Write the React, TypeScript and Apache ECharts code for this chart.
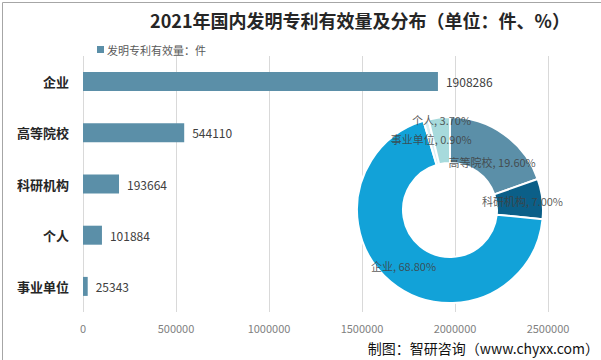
import React, { useEffect, useRef } from "react";
import * as echarts from "echarts";

const categories = ["企业", "高等院校", "科研机构", "个人", "事业单位"];
const counts = [1908286, 544110, 193664, 101884, 25343];
const pieNames = ["高等院校", "科研机构", "企业", "事业单位", "个人"];
const piePercents = [19.6, 7.0, 68.8, 0.9, 3.7];
const pieColors = ["#5b8fa8", "#0b5f88", "#12a2d8", "#d9eef4", "#a7dadc"];
const xTicks = [0, 500000, 1000000, 1500000, 2000000, 2500000];

export default function App() {
  const ref = useRef<HTMLDivElement>(null);
  useEffect(() => {
    if (!ref.current) return;
    const chart = echarts.init(ref.current, undefined, { renderer: "svg" });
    const font = "'Microsoft YaHei','Noto Sans CJK SC',sans-serif";
    chart.setOption({
      animation: false,
      backgroundColor: "#ffffff",
      textStyle: { fontFamily: font },
      title: {
        text: "2021年国内发明专利有效量及分布（单位：件、%）",
        left: 355,
        textAlign: "center",
        top: 6,
        textStyle: { fontSize: 18, fontWeight: "bold", color: "#262626", fontFamily: font },
      },
      legend: {
        data: ["发明专利有效量：件"],
        left: 92,
        top: 39,
        itemWidth: 7,
        itemHeight: 7,
        itemGap: 4,
        icon: "rect",
        textStyle: { fontSize: 11, color: "#595959", padding: [0, 0, 0, -2] },
      },
      grid: { left: 83, right: 53, top: 56, bottom: 48, containLabel: false },
      xAxis: {
        type: "value",
        min: xTicks[0],
        max: xTicks[xTicks.length - 1],
        interval: xTicks[1] - xTicks[0],
        axisLine: { show: false },
        axisTick: { show: false },
        splitLine: { show: true, lineStyle: { color: "#d9d9d9", width: 1 } },
        axisLabel: { color: "#7f7f7f", fontSize: 11, margin: 10, formatter: (v: number) => String(v) },
      },
      yAxis: {
        type: "category",
        data: categories,
        inverse: true,
        axisLine: { show: false },
        axisTick: { show: false },
        axisLabel: { color: "#262626", fontSize: 13, fontWeight: "bold", margin: 14 },
      },
      series: [
        {
          name: "发明专利有效量：件",
          type: "bar",
          data: counts,
          barWidth: 19,
          itemStyle: { color: "#5b8fa8" },
          label: { show: true, position: "right", distance: 8, color: "#404040", fontSize: 12 },
        },
        {
          name: "分布",
          type: "pie",
          center: [450, 210],
          radius: [47, 93],
          startAngle: 90,
          clockwise: true,
          data: pieNames.map((n, i) => ({ name: n, value: piePercents[i], itemStyle: { color: pieColors[i] } })),
          itemStyle: { borderColor: "#ffffff", borderWidth: 2 },
          label: {
            show: true,
            position: "inside",
            formatter: (p: any) => `${p.name}, ${p.value.toFixed(2)}%`,
            color: "rgba(64,64,64,0.85)",
            fontSize: 11,
          },
          labelLayout: (p: any) => {
            if (p.dataIndex === 4) return { dy: -17 };
            if (p.dataIndex === 0) return { dy: 12 };
            return {};
          },
          labelLine: { show: false },
          emphasis: { disabled: true },
        },
      ],
      graphic: [
        {
          type: "text",
          right: 2,
          bottom: 5,
          style: { text: "制图：智研咨询（www.chyxx.com）", fontSize: 14, fill: "#111111", fontFamily: font },
        },
        {
          type: "rect",
          left: 0,
          top: 0,
          shape: { x: 0.5, y: 0.5, width: 600, height: 359 },
          style: { fill: "none", stroke: "#a6a6a6", lineWidth: 1 },
          silent: true,
        },
      ],
    });
    return () => chart.dispose();
  }, []);
  return (
    <div
      ref={ref}
      style={{ position: "fixed", left: 0, top: 0, width: 601, height: 360 }}
    />
  );
}
